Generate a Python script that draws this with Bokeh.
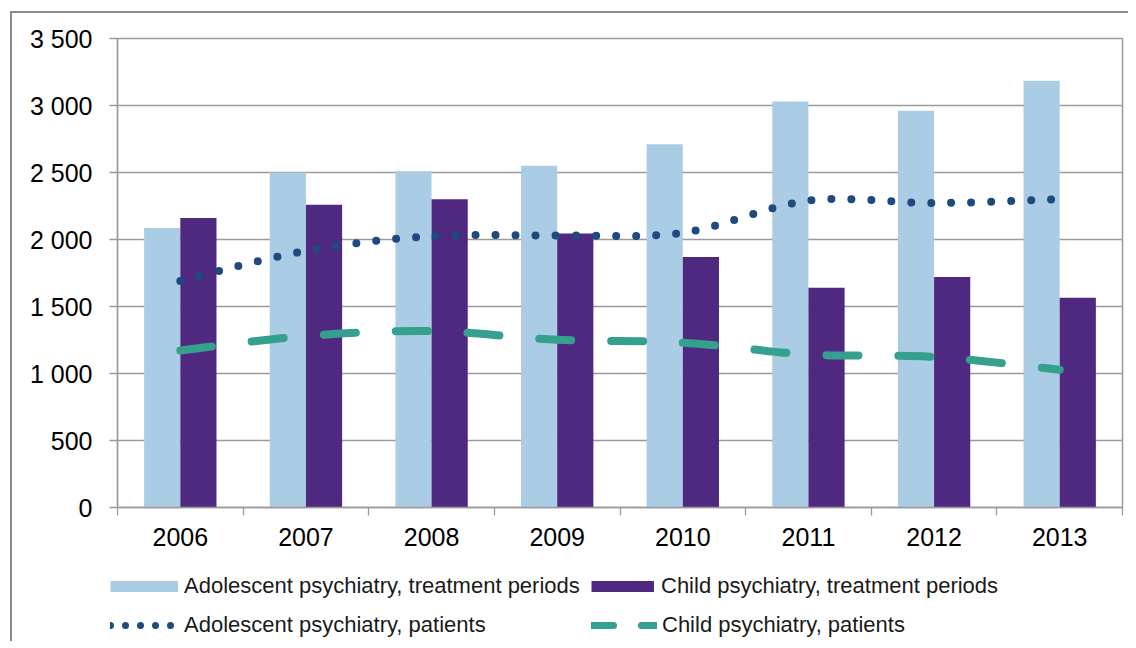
import numpy as np
from bokeh.plotting import figure
from bokeh.models import (FixedTicker, Range1d, Legend, LegendItem, ColumnDataSource)
from bokeh.embed import file_html
from bokeh.resources import INLINE

# ---- data ----
years = ["2006", "2007", "2008", "2009", "2010", "2011", "2012", "2013"]
adol_periods = [2085, 2500, 2510, 2550, 2710, 3030, 2960, 3185]
child_periods = [2160, 2260, 2300, 2045, 1870, 1640, 1720, 1565]
adol_patients = [1690, 1915, 2025, 2030, 2050, 2290, 2272, 2300]
child_patients = [1172, 1280, 1316, 1252, 1230, 1142, 1124, 1028]
y_ticks = [0, 500, 1000, 1500, 2000, 2500, 3000, 3500]
y_tick_labels = ["0", "500", "1 000", "1 500", "2 000", "2 500", "3 000", "3 500"]
series_names = ["Adolescent psychiatry, treatment periods",
                "Child psychiatry, treatment periods",
                "Adolescent psychiatry, patients",
                "Child psychiatry, patients"]

C_LIGHT = "#AACDE5"
C_PURPLE = "#4F2980"
C_NAVY = "#1F4A80"
C_TEAL = "#34A08D"
C_GRID = "#9A9A9A"
FONT = "Liberation Sans"

n = len(years)
xs = np.arange(n, dtype=float)

FRAME_W, FRAME_H = 1005, 469
BL, BT, BR = 105, 25, 8
W = BL + FRAME_W + BR
H1 = 545
BB = H1 - BT - FRAME_H
H2 = 85

p = figure(width=W, height=H1, output_backend="svg", toolbar_location=None,
           x_range=Range1d(-0.5, n - 0.5), y_range=Range1d(0, 3500),
           min_border_left=BL, min_border_right=BR, min_border_top=BT,
           min_border_bottom=BB)
p.styles = {"border-top": "2px solid #8c8c8c", "border-left": "2px solid #8c8c8c",
            "margin-left": "10px", "margin-top": "11px"}
p.outline_line_color = C_GRID
p.outline_line_width = 1.5
p.background_fill_color = "white"
p.border_fill_color = "white"

# grid
p.xgrid.grid_line_color = None
p.ygrid.grid_line_color = C_GRID
p.ygrid.grid_line_width = 1.3

# y axis
p.yaxis.ticker = FixedTicker(ticks=y_ticks, minor_ticks=[])
p.yaxis.major_label_overrides = {t: l for t, l in zip(y_ticks, y_tick_labels)}
p.yaxis.axis_line_color = C_GRID
p.yaxis.axis_line_width = 1.3
p.yaxis.major_tick_line_color = C_GRID
p.yaxis.major_tick_line_width = 1.3
p.yaxis.major_tick_out = 8
p.yaxis.major_tick_in = 0
p.yaxis.minor_tick_line_color = None
p.yaxis.major_label_text_font = FONT
p.yaxis.major_label_text_font_size = "25px"
p.yaxis.major_label_text_color = "#000000"
p.yaxis.major_label_standoff = 17

# x axis: labels at centres, ticks between categories
bounds = list(np.arange(n + 1) - 0.5)
p.xaxis.ticker = FixedTicker(ticks=list(xs), minor_ticks=bounds)
p.xaxis.major_label_overrides = {int(i): y for i, y in zip(xs, years)}
p.xaxis.axis_line_color = C_GRID
p.xaxis.axis_line_width = 1.3
p.xaxis.major_tick_line_color = None
p.xaxis.major_tick_out = 0
p.xaxis.major_tick_in = 0
p.xaxis.minor_tick_line_color = C_GRID
p.xaxis.minor_tick_line_width = 1.3
p.xaxis.minor_tick_out = 8
p.xaxis.minor_tick_in = 0
p.xaxis.major_label_text_font = FONT
p.xaxis.major_label_text_font_size = "25px"
p.xaxis.major_label_text_color = "#000000"
p.xaxis.major_label_standoff = 12

# bars
bw = 0.288
p.vbar(x=xs - bw / 2, top=adol_periods, width=bw, bottom=0,
       fill_color=C_LIGHT, line_color=None)
p.vbar(x=xs + bw / 2, top=child_periods, width=bw, bottom=0,
       fill_color=C_PURPLE, line_color=None)

# smoothed lines (Excel-like bezier smoothing)
px_per_x = FRAME_W / n
px_per_y = FRAME_H / 3500.0


def smooth_segments(vals, period):
    v = np.asarray(vals, dtype=float)
    P = np.column_stack([xs, v])
    out = {k: [] for k in ["x0", "y0", "x1", "y1", "cx0", "cy0", "cx1", "cy1", "off"]}
    cum = 0.0
    for i in range(n - 1):
        pm = P[max(i - 1, 0)]
        p0 = P[i]
        p1 = P[i + 1]
        p2 = P[min(i + 2, n - 1)]
        c0 = p0 + (p1 - pm) / 6.0
        c1 = p1 - (p2 - p0) / 6.0
        out["x0"].append(p0[0]); out["y0"].append(p0[1])
        out["x1"].append(p1[0]); out["y1"].append(p1[1])
        out["cx0"].append(c0[0]); out["cy0"].append(c0[1])
        out["cx1"].append(c1[0]); out["cy1"].append(c1[1])
        out["off"].append(int(round(cum % period)))
        t = np.linspace(0, 1, 80)[:, None]
        B = ((1 - t) ** 3) * p0 + 3 * ((1 - t) ** 2) * t * c0 + 3 * (1 - t) * t ** 2 * c1 + t ** 3 * p1
        d = np.diff(B, axis=0)
        cum += float(np.sum(np.hypot(d[:, 0] * px_per_x, d[:, 1] * px_per_y)))
    return out


seg_a = ColumnDataSource(smooth_segments(adol_patients, 20))
p.bezier(x0="x0", y0="y0", x1="x1", y1="y1", cx0="cx0", cy0="cy0", cx1="cx1", cy1="cy1",
         source=seg_a, line_color=C_NAVY, line_width=8, line_dash="0 20",
         line_cap="round", line_dash_offset="off")

seg_c = ColumnDataSource(smooth_segments(child_patients, 72))
p.bezier(x0="x0", y0="y0", x1="x1", y1="y1", cx0="cx0", cy0="cy0", cx1="cx1", cy1="cy1",
         source=seg_c, line_color=C_TEAL, line_width=8, line_dash="32 40",
         line_cap="round", line_dash_offset="off")

# ---- legend strip (separate figure whose frame holds the legend) ----
q = figure(width=W, height=H2, output_backend="svg", toolbar_location=None,
           x_range=Range1d(-0.5, n - 0.5), y_range=Range1d(0, 3500),
           x_axis_location=None, y_axis_location=None,
           min_border_left=0, min_border_right=0, min_border_top=0, min_border_bottom=0)
q.styles = {"border-left": "2px solid #8c8c8c", "margin-left": "10px"}
q.grid.grid_line_color = None
q.outline_line_color = None
q.background_fill_color = "white"
q.border_fill_color = "white"

# hidden proxy renderers (same series data) that only supply the legend swatches
r_leg_a = q.line(x=xs, y=adol_periods, line_color=C_LIGHT, line_width=11, line_cap="butt", visible=False)
r_leg_c = q.line(x=xs, y=child_periods, line_color=C_PURPLE, line_width=11, line_cap="butt", visible=False)
r_leg_dots = q.line(x=xs, y=adol_patients, line_color=C_NAVY, line_width=7, line_dash="0 15",
                    line_cap="round", visible=False)
r_leg_dash = q.line(x=xs, y=child_patients, line_color=C_TEAL, line_width=7, line_dash="22 28",
                    line_cap="round", visible=False)


def add_legend(label, renderer, loc, gw, standoff):
    lg = Legend(items=[LegendItem(label=label, renderers=[renderer])], location=loc,
                orientation="vertical", padding=0, margin=0, spacing=0,
                glyph_width=gw, glyph_height=24, label_height=24,
                label_standoff=standoff,
                label_text_font=FONT, label_text_font_size="22px",
                label_text_color="#1a1a1a", border_line_color=None,
                background_fill_alpha=0, inactive_fill_alpha=0)
    q.add_layout(lg, "center")


add_legend(series_names[0], r_leg_a, (98, 42), 68, 6)
add_legend(series_names[1], r_leg_c, (579, 42), 63, 7)
add_legend(series_names[2], r_leg_dots, (98, 3), 66, 8)
add_legend(series_names[3], r_leg_dash, (579, 3), 66, 5)

open("out.html", "w").write(file_html([p, q], INLINE))
